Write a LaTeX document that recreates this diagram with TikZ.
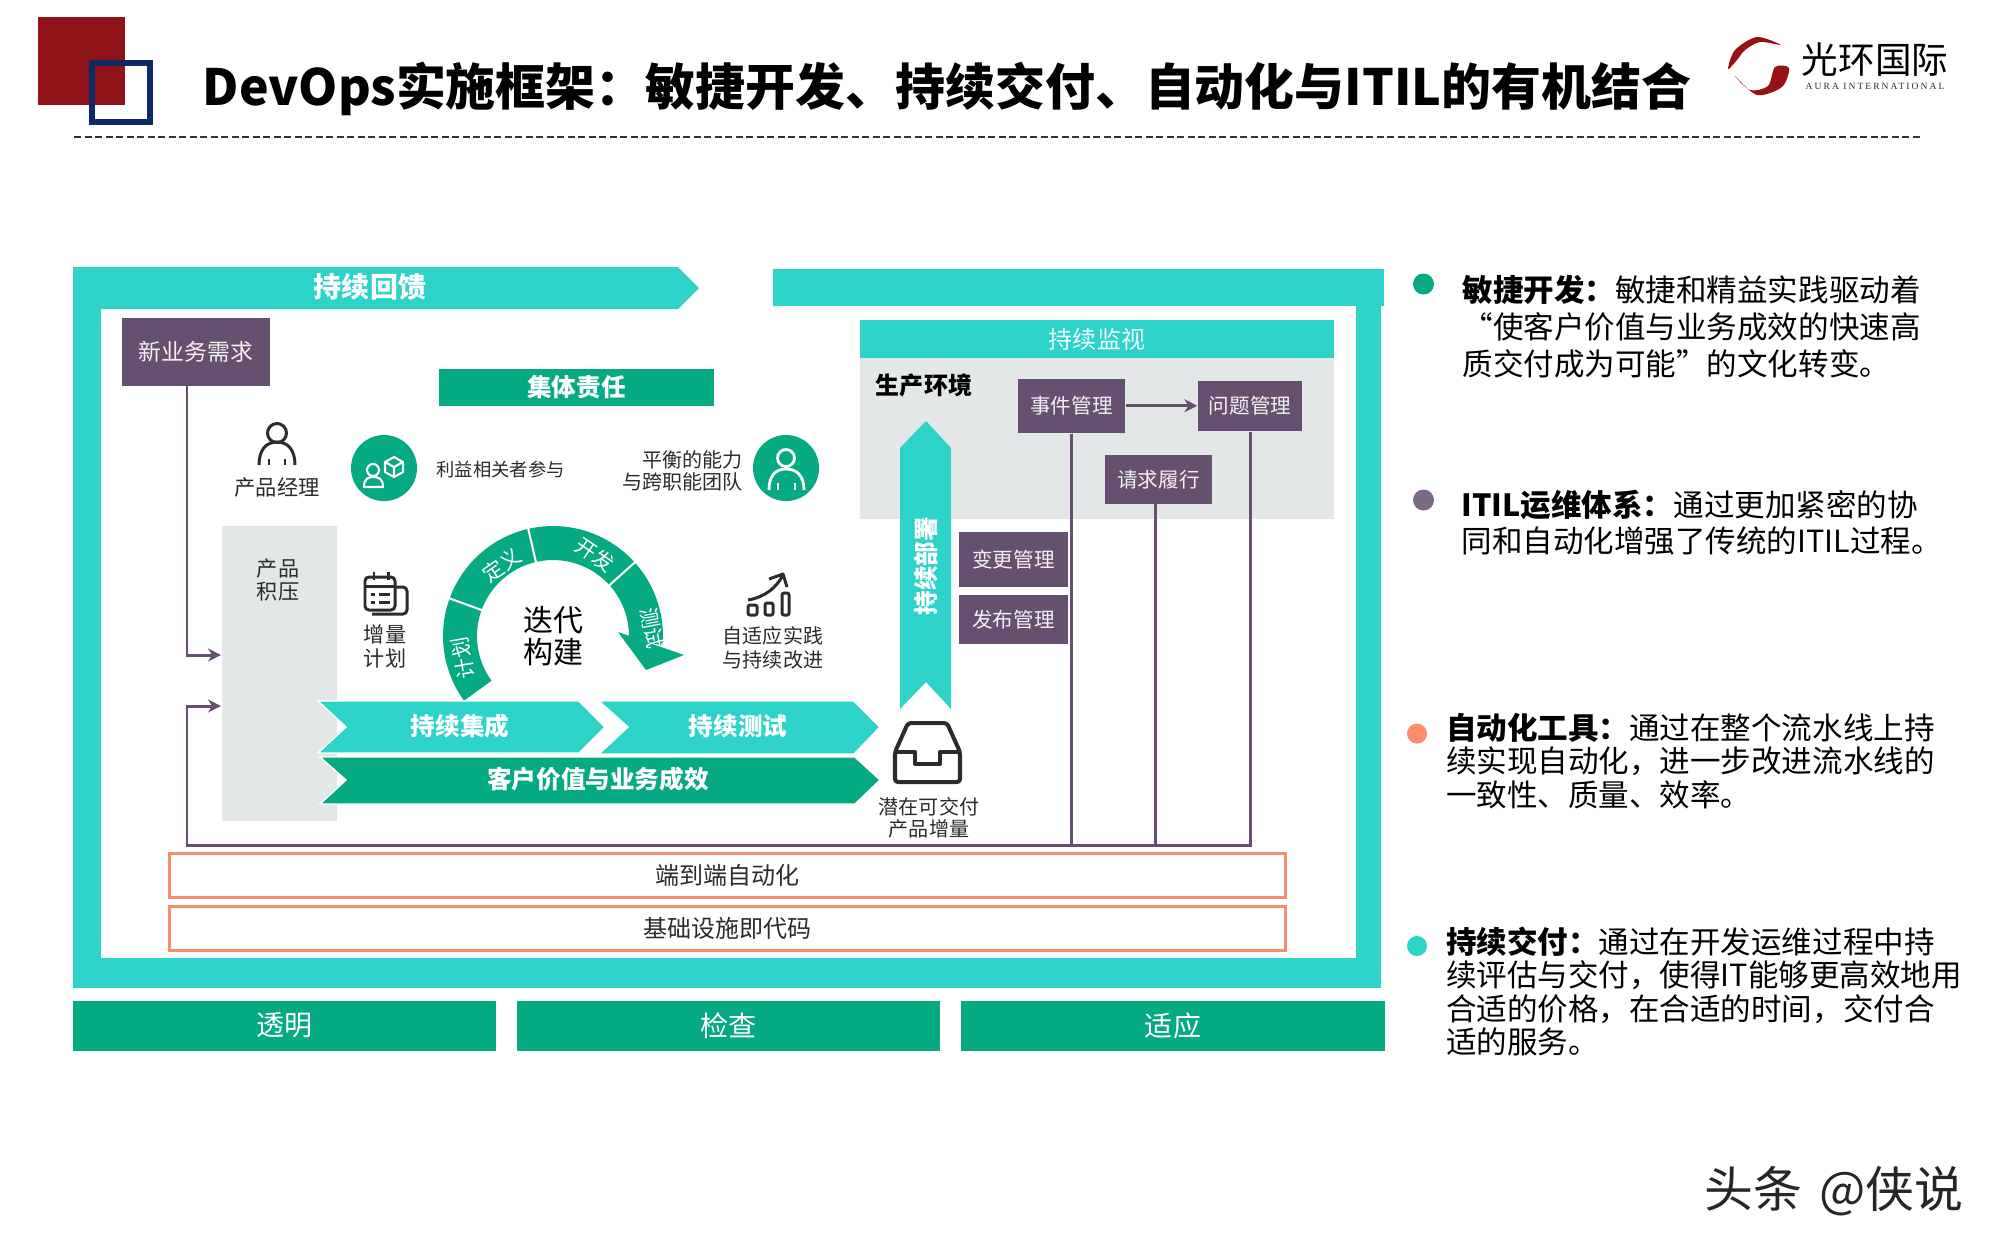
\documentclass[tikz,border=0pt]{standalone}
\usepackage{fontspec}
\usepackage{xcolor}
\usetikzlibrary{arrows.meta}
\setmainfont{Noto Sans CJK SC}
\newfontfamily\logofont[LetterSpace=22]{Liberation Serif}
\definecolor{tealc}{HTML}{2DD2C8}
\definecolor{greenc}{HTML}{05A982}
\definecolor{plumc}{HTML}{65506F}
\definecolor{coralc}{HTML}{F4906F}
\definecolor{peachc}{HTML}{FA8E6C}
\definecolor{mistc}{HTML}{E4E7E7}
\definecolor{inkc}{HTML}{2B2B2B}
\definecolor{redc}{HTML}{8F1316}
\definecolor{navyc}{HTML}{0D2A66}
\begin{document}
\begin{tikzpicture}[x=0.01cm,y=-0.01cm,>={Stealth[length=1.3mm,width=1.3mm]},line cap=butt,
  inner sep=0pt,
  fs/.style={font=\fontsize{#1}{#1}\selectfont},
  plumbox/.style={fill=plumc,text=white!92!plumc,fs=5.85,minimum width=#1},
  tealbar/.style={fill=greenc,text=white,fs=7.97,minimum width=4.23cm,minimum height=0.5cm},
  link/.style={draw=plumc,line width=0.85pt},
  stack/.style={draw=coralc,line width=0.85pt,fill=white,text=inkc,fs=6.83,minimum width=11.15cm,minimum height=0.44cm},
  iconline/.style={draw=inkc,line width=0.85pt,line join=round},
  whiteline/.style={draw=white,line width=0.6pt,line join=round},
  small/.style={text=inkc,align=center,font=\fontsize{5.7}{#1}\selectfont},
  arclabel/.style={text=white,fs=5.9},
  bodytxt/.style={text=black,anchor=west,align=left,font=\fontsize{8.68}{#1}\selectfont}]
\useasboundingbox (0,0) rectangle (2000,1250);
\fill[white] (0,0) rectangle (2000,1250);
\fill[redc] (38,17) rectangle (125,105);
\draw[navyc,line width=1.7pt] (92,63) rectangle (150,122);
\node[anchor=west,text=black,fs=14.2] (title) at (202,89) {\bfseries DevOps实施框架：敏捷开发、持续交付、自动化与ITIL的有机结合};
\draw[black!80,line width=0.45pt,dash pattern=on 0.07cm off 0.035cm] (74,137) -- (1920,137);
\fill[redc!90!red] plot[smooth cycle] coordinates {(1728,69) (1735,50) (1757,37) (1781,45) (1760,42) (1745,50) (1737,60)};
\fill[redc!90!red] plot[smooth cycle] coordinates {(1789,68) (1782,87) (1757,95) (1735,76) (1750,90) (1768,86) (1775,67)};
\node[text=black,fs=10.4] (brand) at (1875,60) {光环国际};
\node[text=inkc,font=\logofont\fontsize{2.7}{3}\selectfont] (brandsub) at (1875,86) {AURA INTERNATIONAL};
\fill[tealc] (73,309) rectangle (1381,988);
\fill[white] (101,309) rectangle (1356,958);
\fill[tealc] (1356,300) rectangle (1381,320);
\fill[tealc] (73,267) -- (678,267) -- (699,288) -- (678,309) -- (73,309) -- cycle;
\fill[tealc] (773,269) rectangle (1384,306);
\node[text=white,fs=7.97] (feedback) at (370,287) {\bfseries 持续回馈};
\node[plumbox=1.48cm,minimum height=0.67cm,fs=6.5] (demand) at (196,352) {新业务需求};
\node[fill=greenc,text=white,fs=7,minimum width=2.75cm,minimum height=0.37cm] (team) at (576.5,387.5) {\bfseries 集体责任};
\draw[iconline] (277,433) circle (9.5);
\draw[iconline] (259,465) .. controls (259,450) and (266,442) .. (277,442) .. controls (288,442) and (295,450) .. (295,465);
\draw[iconline] (269,459) -- (269,465) (285,459) -- (285,465);
\node[text=inkc,fs=6.05] (owner) at (277,487) {产品经理};
\node[circle,fill=greenc,minimum size=0.66cm] (stake) at (384,468) {};
\draw[whiteline] (373,470) circle (6);
\draw[whiteline] (364,487) .. controls (364,478) and (369,477) .. (373,477) .. controls (378,477) and (383,478) .. (383,487) -- cycle;
\draw[whiteline] (394,457) -- (403,462) -- (403,472) -- (394,477) -- (385,472) -- (385,462) -- cycle;
\draw[whiteline] (385,462) -- (394,467) -- (403,462) (394,467) -- (394,477);
\node[anchor=west,text=inkc,fs=5.2] (stakelab) at (436,470) {利益相关者参与};
\node[anchor=east,align=right,text=inkc,font=\fontsize{5.7}{6.26}\selectfont] (skills) at (743,471) {平衡的能力\\与跨职能团队};
\node[circle,fill=greenc,minimum size=0.66cm] (crew) at (786,468) {};
\draw[whiteline,line width=0.8pt] (786,458) circle (8.5);
\draw[whiteline,line width=0.8pt] (769,490) .. controls (769,476) and (775,469) .. (786,469) .. controls (797,469) and (804,476) .. (804,490);
\draw[whiteline,line width=0.8pt] (778,483) -- (778,490) (795,483) -- (795,490);
\node[fill=mistc,minimum width=1.15cm,minimum height=2.95cm] (backlog) at (279.5,673.5) {};
\node[text=inkc,align=center,font=\fontsize{6}{6.8}\selectfont] (backloglab) at (278,580) {产品\\积压};
\draw[iconline,rounded corners=0.4mm] (365,577) rectangle (395,610);
\draw[iconline,rounded corners=0.4mm] (395,587) -- (407,587) -- (407,614) -- (372,614);
\draw[iconline] (374,572) -- (374,580) (388,572) -- (388,580) (365,586) -- (395,586);
\draw[iconline] (371,594) -- (375,594) (379,594) -- (390,594) (371,602) -- (375,602) (379,602) -- (390,602);
\node[text=inkc,align=center,font=\fontsize{6}{6.8}\selectfont] (plan) at (385,646) {增量\\计划};
\fill[greenc] plot[domain=216:-5,samples=70] ({553+110*cos(\x)},{636-110*sin(\x)}) -- plot[domain=-1:216,samples=70] ({553+76*cos(\x)},{636-76*sin(\x)}) -- cycle;
\fill[greenc] (618,632) -- (684,655) -- (646,670) -- cycle;
\foreach \a in {160,103,42}
  \draw[white,line width=0.6pt] ({553+72*cos(\a)},{636-72*sin(\a)}) -- ({553+113*cos(\a)},{636-113*sin(\a)});
\node[arclabel,rotate=100] (arcplan) at (463,658) {计划};
\node[arclabel,rotate=35] (arcdef) at (502,565) {定义};
\node[arclabel,rotate=-34] (arcdev) at (595,555) {开发};
\node[arclabel,rotate=-79] (arctest) at (652,628) {测试};
\node[align=center,text=black,font=\fontsize{8.53}{8.9}\selectfont] (iter) at (553,636) {迭代\\构建};
\draw[iconline,rounded corners=0.2mm] (748,605) rectangle (757,615);
\draw[iconline,rounded corners=0.2mm] (765,603) rectangle (773,615);
\draw[iconline,rounded corners=0.2mm] (782,593) rectangle (789,615);
\draw[iconline] (748,600) .. controls (765,597) and (776,588) .. (783,575);
\draw[iconline] (769,579) -- (783,574) -- (787,587);
\node[small=6.83] (adapt) at (773,648) {自适应实践\\与持续改进};
\filldraw[fill=tealc,draw=white,line width=0.4pt] (318,701) -- (579,701) -- (605,727) -- (579,753) -- (318,753) -- (346,727) -- cycle;
\filldraw[fill=tealc,draw=white,line width=0.4pt] (599,701) -- (854,701) -- (880,727) -- (854,754) -- (599,754) -- (628,727) -- cycle;
\filldraw[fill=greenc,draw=white,line width=0.4pt] (320,757) -- (855,757) -- (880,780) -- (855,804) -- (320,804) -- (346,780) -- cycle;
\node[text=white,fs=7] (ci) at (460,726) {\bfseries 持续集成};
\node[text=white,fs=7] (ct) at (738,726) {\bfseries 持续测试};
\node[text=white,fs=7] (value) at (598,779) {\bfseries 客户价值与业务成效};
\node[fill=mistc,minimum width=4.74cm,minimum height=1.61cm] (prod) at (1097,438.5) {};
\node[fill=tealc,text=white!92!tealc,fs=6.83,minimum width=4.74cm,minimum height=0.38cm] (monitor) at (1097,339) {\raisebox{0.3pt}{持续监视}};
\node[text=black,fs=6.83] (prodlab) at (924,385) {\bfseries 生产环境};
\fill[tealc] (900,709) -- (900,448) -- (926,421) -- (951,448) -- (951,709) -- (926,682) -- cycle;
\node[text=white,fs=7,rotate=90] (deploy) at (926,566) {\bfseries 持续部署};
\node[plumbox=1.07cm,minimum height=0.545cm] (incident) at (1071.5,405.75) {事件管理};
\node[plumbox=1.04cm,minimum height=0.505cm] (problem) at (1250,405.75) {问题管理};
\node[plumbox=1.07cm,minimum height=0.49cm] (request) at (1158.5,479.5) {请求履行};
\node[plumbox=1.09cm,minimum height=0.555cm] (change) at (1013.5,559.25) {变更管理};
\node[plumbox=1.09cm,minimum height=0.49cm] (release) at (1013.5,619.5) {发布管理};
\coordinate (demandfoot) at (187,386);
\coordinate (backhigh) at (221,655);
\coordinate (backlow) at (221,706);
\coordinate (busleft) at (187,845);
\coordinate (reqfoot) at (1155,504);
\draw[link,->] (incident.east) -- (problem.west);
\draw[link,->] (demandfoot) |- (backhigh);
\draw[link,->] (problem.south) |- (busleft) |- (backlow);
\draw[link] (incident.south) -- (incident.south |- busleft);
\draw[link] (reqfoot) -- (reqfoot |- busleft);
\draw[iconline,line width=1.15pt,rounded corners=0.3mm] (895,752) -- (908,723) -- (947,723) -- (960,752) -- (960,782) -- (895,782) -- cycle;
\draw[iconline,line width=1.15pt] (895,752) -- (915,752) -- (915,764) -- (940,764) -- (940,752) -- (960,752);
\node[small=6.1] (incr) at (929,818) {潜在可交付\\产品增量};
\node[stack] (e2e) at (727.5,875.5) {\raisebox{0.3pt}{端到端自动化}};
\node[stack] (iac) at (727.5,928) {\raisebox{0.6pt}{基础设施即代码}};
\node[tealbar] (clear) at (284.5,1025.5) {透明};
\node[tealbar] (check) at (728.5,1025.5) {检查};
\node[tealbar] (adjust) at (1173,1025.5) {适应};
\fill[greenc] (1423.5,284) circle (10.5);
\node[bodytxt=10.53] (agile) at (1462,327) {\bfseries 敏捷开发：\mdseries 敏捷和精益实践驱动着\\“使客户价值与业务成效的快速高\\质交付成为可能”的文化转变。};
\fill[plumc!85!white] (1423.5,500) circle (10.5);
\node[bodytxt=10.25] (itil) at (1461,523) {\bfseries ITIL运维体系：\mdseries 通过更加紧密的协\\同和自动化增强了传统的ITIL过程。};
\fill[peachc] (1417,733.6) circle (10);
\node[bodytxt=9.45] (auto) at (1445.5,761) {\bfseries 自动化工具：\mdseries 通过在整个流水线上持\\续实现自动化，进一步改进流水线的\\一致性、质量、效率。};
\fill[tealc] (1417,946) circle (10);
\node[bodytxt=9.45] (cd) at (1445.5,991.5) {\bfseries 持续交付：\mdseries 通过在开发运维过程中持\\续评估与交付，使得IT能够更高效地用\\合适的价格，在合适的时间，交付合\\适的服务。};
\node[anchor=east,text=black!85,fs=13.9] (mark) at (1964,1191) {头条\hspace{0.12em} @侠说};
\end{tikzpicture}
\end{document}
